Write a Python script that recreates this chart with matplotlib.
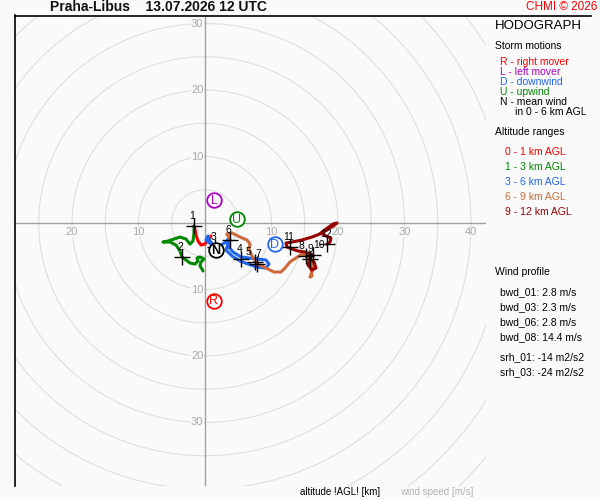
import matplotlib
matplotlib.use("Agg")
import matplotlib.pyplot as plt
from matplotlib.lines import Line2D
import numpy as np

plt.rcParams['font.family'] = ['Liberation Sans', 'DejaVu Sans']

# ---------------- data (m/s) ----------------
# 0-1 km AGL
u_0_1 = [0.90, 0.45, 0.00, -0.60, -1.05, -1.35, -1.50, -1.65]
v_0_1 = [-1.95, -2.56, -3.16, -3.31, -2.71, -1.80, -0.90, -0.45]
# 1-3 km AGL
u_1_3 = [-1.65, -1.65, -1.80, -2.26, -2.86, -3.76, -4.66, -5.56, -6.32, -5.26, -4.36,
         -3.76, -3.46, -2.86, -2.26, -1.50, -1.05, -1.20, -0.75, -0.15, -0.60, -0.75, -0.45, -0.30]
v_1_3 = [-0.45, -1.50, -2.71, -3.16, -2.41, -2.11, -2.41, -2.71, -2.86, -2.86, -3.31,
         -4.21, -5.11, -5.56, -6.02, -6.17, -5.71, -5.26, -5.11, -5.41, -5.86, -6.47, -6.92, -7.22]
# 3-6 km AGL
u_3_6 = [1.50, 0.75, 0.45, 0.15, 1.05, 2.41, 3.16, 3.61, 3.46, 4.21, 5.41, 6.62, 7.82,
         9.17, 9.62, 9.17, 7.82, 6.47, 5.26, 4.06, 3.16, 3.46, 3.76]
v_3_6 = [-3.61, -2.71, -1.95, -2.56, -3.31, -3.31, -2.86, -2.26, -3.46, -4.36, -5.11, -5.26, -5.41,
         -5.56, -6.17, -6.77, -6.62, -6.17, -5.71, -4.96, -4.06, -3.16, -2.56]
# 6-9 km AGL
u_6_9 = [3.76, 3.31, 4.06, 5.26, 6.32, 6.77, 6.62, 7.07, 7.82, 8.57, 9.47, 10.38, 11.43,
         12.03, 12.78, 13.68, 14.59, 15.19, 15.64, 15.94, 16.09, 15.79, 16.39, 15.79]
v_6_9 = [-2.56, -1.65, -1.50, -2.11, -2.56, -3.16, -3.91, -4.96, -6.17, -6.47, -6.92, -7.37, -7.37,
         -6.77, -5.86, -5.26, -4.66, -4.96, -5.56, -6.77, -7.97, -8.12, -6.47, -5.41]
# 9-12 km AGL
u_9_12 = [15.79, 16.39, 16.69, 16.09, 15.49, 15.79, 16.24, 15.04, 13.98, 13.08, 12.33, 12.18,
          13.08, 14.59, 16.09, 17.29, 18.35, 19.25, 19.85, 19.25, 18.20, 17.44, 18.20, 18.95, 18.80, 18.35]
v_9_12 = [-5.41, -5.86, -6.77, -7.07, -6.32, -5.26, -4.81, -4.36, -4.21, -3.91, -3.61, -3.01,
          -2.86, -2.56, -2.11, -1.65, -1.05, -0.45, 0.00, -0.15, -0.90, -1.50, -1.95, -2.26, -2.86, -3.16]

layer_colors = ['#ff0000', '#008800', '#1f66f0', '#cd6a3c', '#990000']
layer_names = ['0 - 1 km AGL', '1 - 3 km AGL', '3 - 6 km AGL', '6 - 9 km AGL', '9 - 12 km AGL']

# altitude markers [km]
alt_km = ['1', '2', '3', '4', '5', '6', '7', '8', '9', '10', '11', '12']
alt_u = [-1.65, -3.46, 1.50, 5.41, 7.52, 3.76, 7.82, 15.19, 15.79, 16.24, 12.78, 18.35]
alt_v = [-0.45, -5.11, -3.61, -5.41, -5.86, -2.56, -6.17, -4.96, -5.41, -4.81, -3.61, -3.16]

# storm motions
storm_letters = ['R', 'L', 'D', 'U', 'N']
storm_u = [1.35, 1.35, 10.5, 4.77, 1.6]
storm_v = [-11.7, 3.46, -3.16, 0.55, -4.06]
storm_colors = ['#ff0000', '#b000c8', '#1f66f0', '#008800', '#000000']
storm_desc = ['R - right mover', 'L - left mover', 'D - downwind', 'U - upwind', 'N - mean wind']

ring_speeds = [10, 20, 30, 40]
wind_profile = ['bwd_01: 2.8 m/s', 'bwd_03: 2.3 m/s', 'bwd_06: 2.8 m/s', 'bwd_08: 14.4 m/s']
helicity = ['srh_01: -14 m2/s2', 'srh_03: -24 m2/s2']

# ---------------- figure ----------------
W, H = 600, 500
bg = '#fafafa'
fig = plt.figure(figsize=(6, 5), dpi=100, facecolor=bg)
ax = fig.add_axes([15 / W, 1 - 486 / H, 471 / W, 471 / H])
ax.set_facecolor(bg)
ax.set_xlim(-28.57, 42.26)
ax.set_ylim(-39.55, 31.28)
ax.set_aspect('equal', adjustable='box')
for s in ['right', 'top', 'bottom']:
    ax.spines[s].set_visible(False)
ax.spines['left'].set_color('black')
ax.spines['left'].set_linewidth(1.2)
ax.set_xticks([])
ax.set_yticks([])

# rings
th = np.linspace(0, 2 * np.pi, 400)
for r in np.arange(5, 75, 5):
    ax.plot(r * np.cos(th), r * np.sin(th), color='#dedede', lw=0.8, zorder=1)
ax.axhline(0, color='#a0a0a0', lw=1.0, zorder=2)
ax.axvline(0, color='#a0a0a0', lw=1.0, zorder=2)

lab_kw = dict(color='#a8a8a8', fontsize=8, zorder=3,
              bbox=dict(facecolor=bg, edgecolor='none', pad=0.3))
for r in ring_speeds:
    ax.text(r, -0.6, str(r), ha='center', va='top', **lab_kw)
    if r <= 20:
        ax.text(-r, -0.6, str(r), ha='center', va='top', **lab_kw)
    if r <= 30:
        ax.text(-0.25, r, str(r), ha='right', va='center', **lab_kw)
        ax.text(-0.25, -r, str(r), ha='right', va='center', **lab_kw)

# hodograph layers
layers = [(u_0_1, v_0_1), (u_1_3, v_1_3), (u_3_6, v_3_6), (u_6_9, v_6_9), (u_9_12, v_9_12)]
for (uu, vv), c in zip(layers, layer_colors):
    ax.plot(uu, vv, color=c, lw=2.2, solid_joinstyle='round', solid_capstyle='round', zorder=4)

# altitude markers
ax.plot(alt_u, alt_v, ls='none', marker='+', ms=11, mew=1.0, color='black', zorder=5)
label_dx = {'5': -4.5, '7': 1.0, '8': -3.5, '9': 0.5, '10': 4.0}
for lab, uu, vv in zip(alt_km, alt_u, alt_v):
    ax.annotate(lab, (uu, vv), xytext=(label_dx.get(lab, -1), 3.5), textcoords='offset points',
                ha='center', va='bottom', fontsize=7.5, color='black', zorder=6)

# storm motions
for let, uu, vv, c in zip(storm_letters, storm_u, storm_v, storm_colors):
    ax.plot([uu], [vv], marker='o', ms=10.5, mfc='white', mec=c, mew=1.3, zorder=7)
    ax.text(uu, vv - 0.1, let, ha='center', va='center', fontsize=9, color=c, zorder=8,
            fontweight='bold' if let == 'N' else 'normal')

# ---------------- texts ----------------
def ftext(x, y, s, **kw):
    fig.text(x / W, 1 - y / H, s, va='center', **kw)

ftext(50, 7, 'Praha-Libus    13.07.2026 12 UTC', fontsize=10, fontweight='bold', color='#111111')
ftext(597, 7, 'CHMI \u00a9 2026', fontsize=8.5, color='#ff0000', ha='right')
fig.add_artist(Line2D([15 / W, 591 / W], [1 - 15.5 / H, 1 - 15.5 / H], color='black', lw=1.2))

ftext(495, 26, 'HODOGRAPH', fontsize=9.5, color='black')
ftext(495, 46, 'Storm motions', fontsize=7.5, color='black')
for i, (d, c) in enumerate(zip(storm_desc, storm_colors)):
    ftext(500, 62 + 10 * i, d, fontsize=7.5, color=c)
ftext(515, 112, 'in 0 - 6 km AGL', fontsize=7.5, color='black')
ftext(495, 132, 'Altitude ranges', fontsize=7.5, color='black')
for i, (n, c) in enumerate(zip(layer_names, layer_colors)):
    ftext(505, 152 + 15 * i, n, fontsize=7.5, color=c)

ftext(495, 272, 'Wind profile', fontsize=7.5, color='black')
for i, s in enumerate(wind_profile):
    ftext(500, 292 + 15 * i, s, fontsize=7.5, color='black')
for i, s in enumerate(helicity):
    ftext(500, 357 + 15 * i, s, fontsize=7.5, color='black')

ftext(300, 492, 'altitude !AGL! [km]', fontsize=7, color='black')
ftext(400, 492, 'wind speed [m/s]', fontsize=7, color='#b4b4b4')

fig.savefig('out.png', dpi=100, facecolor=bg)
